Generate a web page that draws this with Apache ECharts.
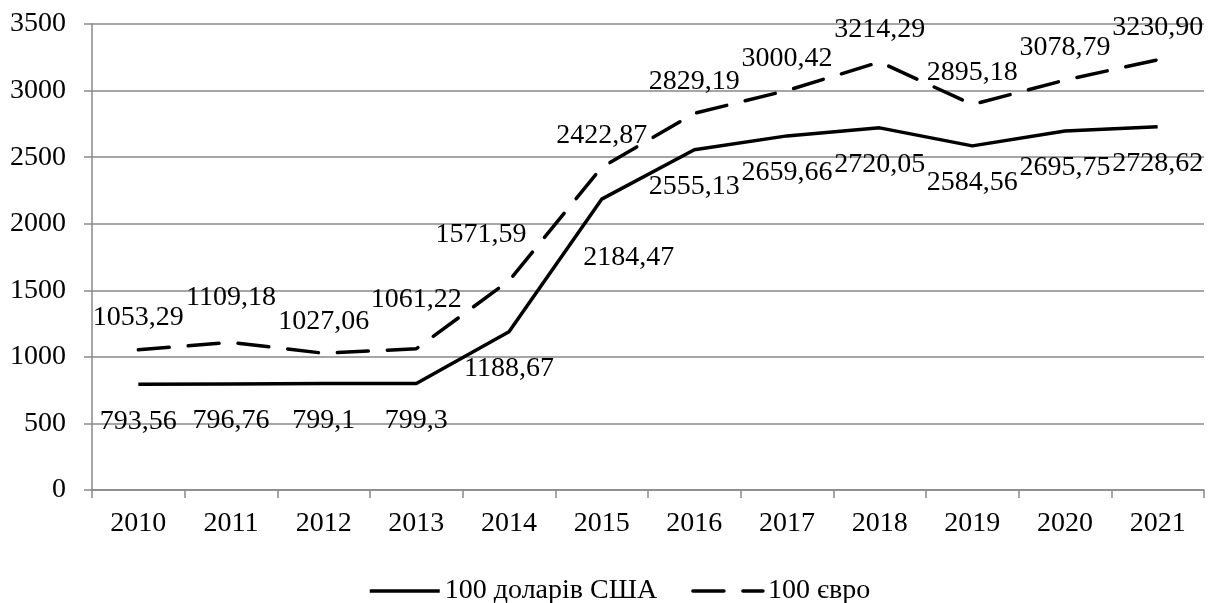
<!DOCTYPE html>
<html>
<head>
<meta charset="utf-8">
<script src="https://cdn.jsdelivr.net/npm/echarts@6/dist/echarts.min.js"></script>
<style>
html,body{margin:0;padding:0;background:#fff;}
#chart{width:1213px;height:603px;}
</style>
</head>
<body>
<div id="chart"></div>
<script>
// ---- data ----
const years = ['2010','2011','2012','2013','2014','2015','2016','2017','2018','2019','2020','2021'];
const usdText = ['793,56','796,76','799,1','799,3','1188,67','2184,47','2555,13','2659,66','2720,05','2584,56','2695,75','2728,62'];
const eurText = ['1053,29','1109,18','1027,06','1061,22','1571,59','2422,87','2829,19','3000,42','3214,29','2895,18','3078,79','3230,90'];
const seriesNames = ['100 доларів США', '100 євро'];
const yTicks = [0, 500, 1000, 1500, 2000, 2500, 3000, 3500];

const usd = usdText.map(s => parseFloat(s.replace(',', '.')));
const eur = eurText.map(s => parseFloat(s.replace(',', '.')));

// ---- label placement (styling) ----
const usdShift = {5: [27, 58]};
const eurShift = {1: [0, -45], 3: [0, -49], 4: [-28, -46]};

const FONT = 'Liberation Serif';
const FS = 28;
const GRAY = '#898989';

function build(vals, texts, shifts, def) {
  return vals.map((v, i) => ({
    value: v,
    label: { formatter: texts[i], offset: shifts[i] || def }
  }));
}

const chart = echarts.init(document.getElementById('chart'), null, {renderer: 'canvas'});
chart.setOption({
  animation: false,
  backgroundColor: '#fff',
  textStyle: { fontFamily: FONT, color: '#000' },
  grid: { left: 92, right: 9, top: 24, bottom: 113, containLabel: false },
  legend: {
    left: 363,
    top: 571,
    itemWidth: 70,
    itemHeight: 14,
    itemGap: 34,
    textStyle: { fontFamily: FONT, fontSize: FS, color: '#000', lineHeight: 30 },
    itemStyle: { opacity: 0 },
    lineStyle: { width: 3.5, color: '#000' },
    data: seriesNames
  },
  xAxis: {
    type: 'category',
    data: years,
    boundaryGap: true,
    axisLine: { show: true, lineStyle: { color: GRAY, width: 1.5 } },
    axisTick: { show: true, length: 8, interval: 0, lineStyle: { color: GRAY, width: 1.5 } },
    axisLabel: { interval: 0, margin: 19, fontFamily: FONT, fontSize: FS, color: '#000', lineHeight: 30 },
    splitLine: { show: false }
  },
  yAxis: {
    type: 'value',
    min: yTicks[0],
    max: yTicks[yTicks.length - 1],
    interval: yTicks[1] - yTicks[0],
    axisLine: { show: true, lineStyle: { color: GRAY, width: 1.5 } },
    axisTick: { show: true, length: 8, lineStyle: { color: GRAY, width: 1.5 } },
    axisLabel: { margin: 26, fontFamily: FONT, fontSize: FS, color: '#000', formatter: v => String(v) },
    splitLine: { show: true, lineStyle: { color: GRAY, width: 1.5 } }
  },
  series: [
    {
      name: seriesNames[0],
      type: 'line',
      data: build(usd, usdText, usdShift, [0, 37]),
      symbol: 'circle',
      symbolSize: 2,
      itemStyle: { color: 'rgba(0,0,0,0)' },
      lineStyle: { color: '#000', width: 3.5, type: 'solid' },
      label: { show: true, position: 'inside', color: '#000', fontFamily: FONT, fontSize: FS },
      emphasis: { disabled: true },
      z: 3
    },
    {
      name: seriesNames[1],
      type: 'line',
      data: build(eur, eurText, eurShift, [0, -32]),
      symbol: 'circle',
      symbolSize: 2,
      itemStyle: { color: 'rgba(0,0,0,0)' },
      lineStyle: { color: '#000', width: 3.5, type: [31, 19], cap: 'round' },
      label: { show: true, position: 'inside', color: '#000', fontFamily: FONT, fontSize: FS },
      emphasis: { disabled: true },
      z: 3
    }
  ]
});
</script>
</body>
</html>
